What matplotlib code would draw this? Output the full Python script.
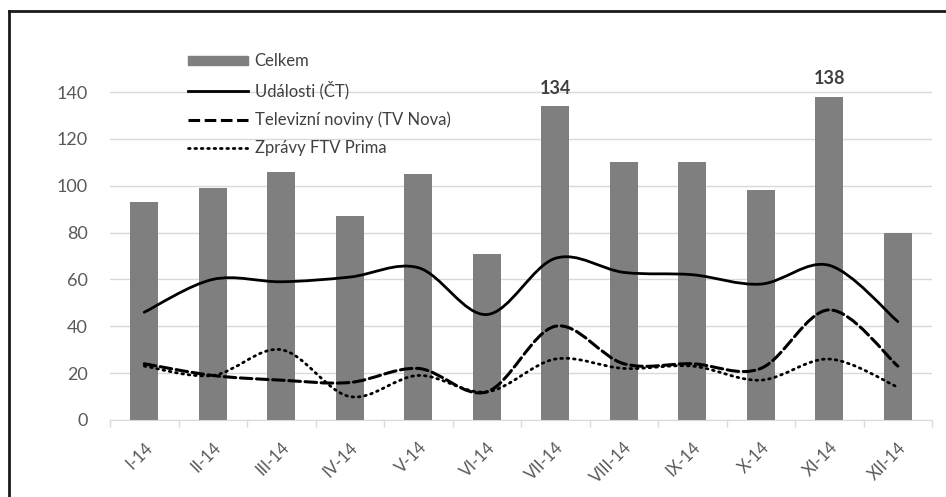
import matplotlib
matplotlib.use('Agg')
import matplotlib.pyplot as plt
import matplotlib.patches as mpatches
from matplotlib.path import Path
from matplotlib.lines import Line2D

months = ['I-14', 'II-14', 'III-14', 'IV-14', 'V-14', 'VI-14',
          'VII-14', 'VIII-14', 'IX-14', 'X-14', 'XI-14', 'XII-14']
celkem = [93, 99, 106, 87, 105, 71, 134, 110, 110, 98, 138, 80]
udalosti = [46, 60, 59, 61, 65, 45, 69, 63, 62, 58, 66, 42]
nova = [24, 19, 17, 16, 22, 12, 40, 24, 24, 22, 47, 23]
prima = [23, 19, 30, 10, 19, 12, 26, 22, 23, 17, 26, 14]
labelled = {6: '134', 10: '138'}

plt.rcParams['font.family'] = ['Lato', 'DejaVu Sans']

DASH = (0, (3.8, 1.5))
DOT = (0, (0.6, 1.7))


def smooth_path(xs, ys):
    """Hladká křivka jako v Excelu (Bézierovy úseky mezi body)."""
    pts = list(zip(xs, ys))
    verts = [pts[0]]
    codes = [Path.MOVETO]
    n = len(pts)
    for i in range(n - 1):
        p0 = pts[i - 1] if i > 0 else pts[i]
        p1 = pts[i]
        p2 = pts[i + 1]
        p3 = pts[i + 2] if i + 2 < n else pts[i + 1]
        c1 = (p1[0] + (p2[0] - p0[0]) / 6, p1[1] + (p2[1] - p0[1]) / 6)
        c2 = (p2[0] - (p3[0] - p1[0]) / 6, p2[1] - (p3[1] - p1[1]) / 6)
        verts += [c1, c2, p2]
        codes += [Path.CURVE4] * 3
    return Path(verts, codes)


fig = plt.figure(figsize=(9.46, 4.97), dpi=100)
ax = fig.add_axes([0.1163, 0.155, 0.869, 0.707])

x = list(range(len(months)))
ax.bar(x, celkem, width=0.41, color='#7f7f7f', zorder=2)

styles = [(udalosti, '-', 2.0), (nova, DASH, 2.2), (prima, DOT, 2.0)]
for vals, ls, lw in styles:
    patch = mpatches.PathPatch(smooth_path(x, vals), facecolor='none',
                               edgecolor='black', linestyle=ls, linewidth=lw,
                               capstyle='round', zorder=3)
    ax.add_patch(patch)

for i, txt in labelled.items():
    ax.text(i, celkem[i] + 4, txt, ha='center', va='bottom', fontsize=13,
            fontweight='bold', color='#404040', clip_on=False)

ax.set_xlim(-0.5, len(months) - 0.5)
ax.set_ylim(0, 150)
ax.set_yticks(range(0, 141, 20))
ax.yaxis.grid(True, color='#d9d9d9', linewidth=1, zorder=0)
ax.set_axisbelow(True)
ax.tick_params(axis='y', length=0, labelsize=13, labelcolor='#595959', pad=16)

ax.set_xticks(x)
ax.set_xticklabels(months, rotation=45, ha='right', rotation_mode='anchor',
                   fontsize=12, color='#595959')
ax.set_xticks([i - 0.5 for i in range(len(months) + 1)], minor=True)
ax.tick_params(axis='x', which='major', length=0, pad=14)
ax.tick_params(axis='x', which='minor', length=5, color='#d9d9d9', width=1)

for side in ['top', 'right', 'left']:
    ax.spines[side].set_visible(False)
ax.spines['bottom'].set_color('#d9d9d9')

handles = [mpatches.Patch(color='#7f7f7f'),
           Line2D([], [], color='black', lw=2.0),
           Line2D([], [], color='black', lw=2.2, ls=DASH),
           Line2D([], [], color='black', lw=2.0, ls=DOT, dash_capstyle='round')]
labels = ['Celkem', 'Události (ČT)', 'Televizní noviny (TV Nova)', 'Zprávy FTV Prima']
fig.legend(handles, labels, loc='upper left', bbox_to_anchor=(0.19, 0.91),
           frameon=False, fontsize=12, labelcolor='#404040', handlelength=3.6,
           handleheight=0.45, handletextpad=0.4, labelspacing=0.72, borderpad=0)

# rámeček obrázku (horní a levá hrana)
fig.add_artist(Line2D([0.009, 1.0], [0.977, 0.977], color='#1a1a1a', lw=2))
fig.add_artist(Line2D([0.009, 0.009], [0.0, 0.977], color='#1a1a1a', lw=2))

fig.savefig('out.png', dpi=100)
